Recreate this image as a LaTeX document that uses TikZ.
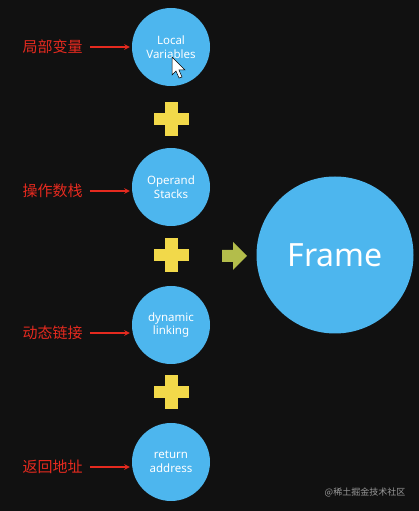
\documentclass[tikz,border=0pt]{standalone}
\usepackage{fontspec}
\setmainfont{Noto Sans}
\newfontfamily\cjk{Noto Sans CJK SC}
\usetikzlibrary{positioning}
\definecolor{bubble}{HTML}{4DB6EE}
\definecolor{plusyellow}{HTML}{F2D94A}
\definecolor{arrowgreen}{HTML}{B3BD4B}
\definecolor{labelred}{HTML}{E52A1F}
\definecolor{board}{HTML}{111111}
\begin{document}
\begin{tikzpicture}[x=1pt, y=1pt, >=stealth,
    part/.style={circle, fill=bubble, minimum size=78pt, inner sep=0pt,
      text=white, align=center, font=\fontsize{11.5}{13.5}\selectfont},
    cnlabel/.style={text=labelred, inner sep=0pt, font=\cjk\fontsize{15}{17}\selectfont}]
    % Background
    \fill[board] (0,0) rectangle (419,511);
    \useasboundingbox (0,0) rectangle (419,511);

    % Frame parts and their labels
    \foreach \name/\txt/\y/\cn/\dy in {
        local/{Local\\Variables}/464/局部变量/0,
        operand/{Operand\\Stacks}/324/操作数栈/-4,
        linking/{dynamic\\linking}/186/动态链接/-8,
        return/{return\\address}/49/返回地址/-5} {
        \node[part] (\name) at (171,\y) {\txt};
        \node[cnlabel, left=49pt of \name, yshift=\dy] (lbl-\name) {\cn};
        \draw[->, labelred, line width=1.4pt, shorten <=7pt, shorten >=2pt]
            (lbl-\name.east) -- (lbl-\name.east -| \name.west);
    }

    % Plus signs
    \foreach \y in {392,256,119} {
        \fill[plusyellow] (153.5,{\y-6}) rectangle (188.5,{\y+6});
        \fill[plusyellow] (164.5,{\y-17}) rectangle (177.5,{\y+17});
    }

    % Arrow and result
    \fill[arrowgreen] (222,261) -- (233,261) -- (233,269) -- (247,255)
        -- (233,241) -- (233,249) -- (222,249) -- cycle;
    \node[part, minimum size=157pt, font=\fontsize{32}{36}\selectfont] (frame) at (335,256) {Frame};

    % Mouse pointer
    \draw[fill=white, line width=0.5pt] (172,454) -- (172,436) -- (176,440) -- (179,433)
        -- (182,434) -- (179,441) -- (185,441) -- cycle;

    % Watermark
    \node[text=black!40, font=\cjk\fontsize{9}{11}\selectfont] (mark) at (365,19) {@稀土掘金技术社区};
\end{tikzpicture}
\end{document}
